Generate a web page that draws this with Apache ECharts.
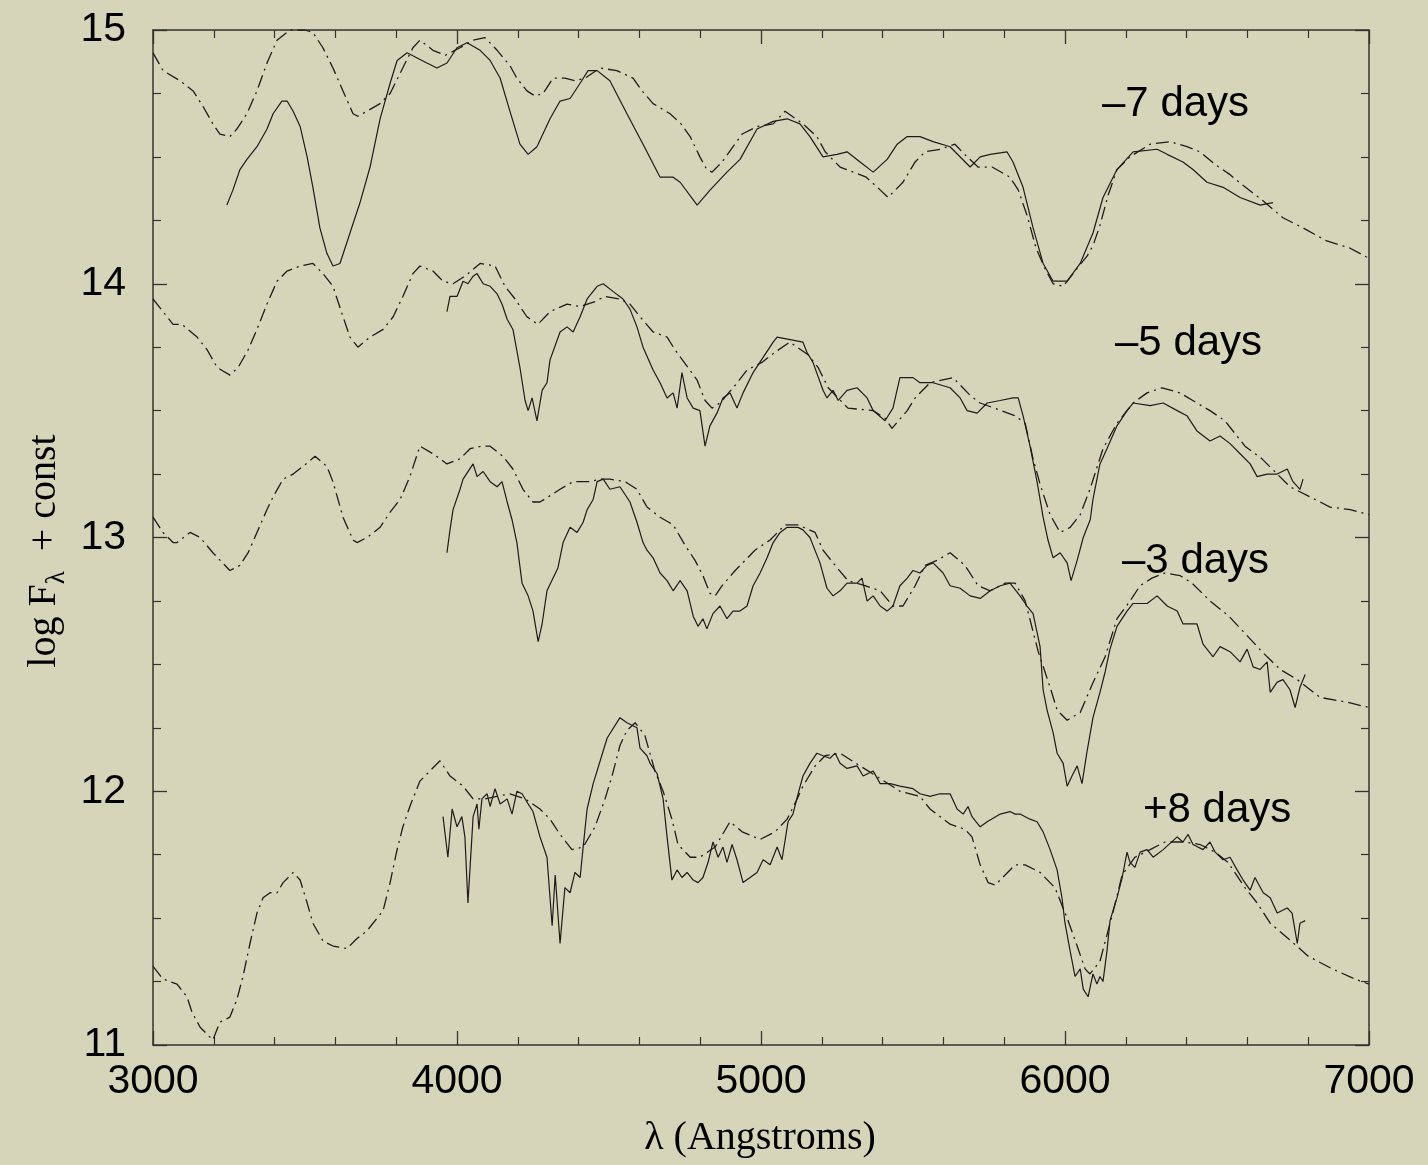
<!DOCTYPE html>
<html>
<head>
    <meta charset="utf-8">
    <title>log F vs wavelength</title>
    <script src="https://cdn.jsdelivr.net/npm/echarts@6.0.0/dist/echarts.min.js"></script>
    <style>
        body { margin: 0; background: #d6d4b9; }
        #main { width: 1428px; height: 1165px; }
    </style>
</head>
<body>
<div id="main"></div>
<script type="text/javascript">

    // spectra: [wavelength (A), log F + const]
    var model7 = [[3000,14.91],[3033,14.84],[3089,14.80],[3132,14.76],[3164,14.70],[3197,14.63],[3220,14.59],[3253,14.58],[3276,14.61],[3309,14.67],[3342,14.76],[3375,14.87],[3408,14.96],[3451,15.00],[3500,15.00],[3526,14.99],[3559,14.93],[3592,14.85],[3625,14.76],[3658,14.67],[3674,14.66],[3704,14.68],[3747,14.71],[3780,14.75],[3813,14.83],[3855,14.93],[3878,14.96],[3921,14.92],[3961,14.90],[4010,14.93],[4053,14.96],[4092,14.97],[4132,14.92],[4174,14.86],[4197,14.81],[4230,14.76],[4257,14.74],[4283,14.75],[4316,14.81],[4355,14.81],[4388,14.80],[4421,14.81],[4471,14.85],[4526,14.84],[4579,14.81],[4609,14.76],[4645,14.71],[4701,14.67],[4737,14.63],[4767,14.58],[4799,14.50],[4822,14.45],[4839,14.44],[4872,14.48],[4908,14.54],[4938,14.59],[4987,14.62],[5040,14.63],[5079,14.68],[5138,14.63],[5184,14.58],[5211,14.52],[5260,14.46],[5346,14.42],[5392,14.37],[5418,14.34],[5467,14.40],[5507,14.48],[5540,14.52],[5589,14.53],[5638,14.55],[5678,14.50],[5714,14.46],[5760,14.46],[5819,14.42],[5846,14.37],[5875,14.27],[5905,14.14],[5934,14.06],[5961,14.00],[5994,13.99],[6033,14.05],[6073,14.11],[6092,14.15],[6115,14.23],[6142,14.35],[6171,14.45],[6214,14.50],[6280,14.55],[6346,14.56],[6401,14.54],[6444,14.52],[6494,14.47],[6543,14.43],[6583,14.39],[6648,14.33],[6717,14.26],[6783,14.22],[6859,14.17],[6938,14.14],[7000,14.10]];

    var obs7 = [[3243,14.31],[3263,14.37],[3286,14.45],[3309,14.49],[3342,14.54],[3375,14.61],[3395,14.67],[3424,14.72],[3441,14.72],[3461,14.68],[3484,14.62],[3507,14.50],[3526,14.38],[3549,14.22],[3572,14.12],[3592,14.07],[3615,14.08],[3648,14.20],[3681,14.32],[3714,14.46],[3747,14.65],[3780,14.79],[3803,14.88],[3836,14.91],[3869,14.89],[3901,14.87],[3934,14.85],[3967,14.87],[4000,14.93],[4033,14.95],[4076,14.92],[4109,14.88],[4142,14.81],[4174,14.68],[4207,14.55],[4234,14.51],[4263,14.54],[4306,14.65],[4339,14.72],[4372,14.73],[4405,14.79],[4431,14.84],[4461,14.84],[4503,14.80],[4559,14.67],[4612,14.55],[4668,14.42],[4711,14.42],[4734,14.40],[4790,14.31],[4833,14.37],[4888,14.44],[4931,14.49],[4987,14.61],[5040,14.64],[5086,14.65],[5128,14.63],[5161,14.58],[5204,14.50],[5250,14.51],[5283,14.52],[5326,14.48],[5369,14.44],[5415,14.49],[5448,14.55],[5481,14.58],[5523,14.58],[5566,14.56],[5622,14.54],[5688,14.46],[5721,14.50],[5754,14.51],[5809,14.52],[5829,14.48],[5862,14.38],[5895,14.22],[5928,14.08],[5961,14.01],[6007,14.01],[6050,14.08],[6092,14.20],[6125,14.34],[6171,14.45],[6224,14.52],[6303,14.53],[6336,14.51],[6388,14.48],[6421,14.45],[6467,14.40],[6520,14.38],[6576,14.34],[6642,14.31],[6684,14.32]];

    var model5 = [[3000,13.94],[3033,13.89],[3066,13.84],[3095,13.84],[3145,13.79],[3178,13.74],[3211,13.67],[3253,13.64],[3280,13.67],[3313,13.74],[3342,13.82],[3375,13.92],[3408,14.01],[3441,14.05],[3484,14.07],[3526,14.08],[3559,14.04],[3592,13.99],[3625,13.87],[3648,13.79],[3674,13.75],[3714,13.79],[3757,13.82],[3790,13.87],[3822,13.95],[3855,14.04],[3878,14.07],[3921,14.05],[3954,14.01],[3987,14.00],[4026,14.03],[4076,14.08],[4125,14.07],[4158,13.99],[4191,13.94],[4230,13.87],[4266,13.84],[4306,13.89],[4362,13.92],[4405,13.91],[4454,13.93],[4487,13.95],[4536,13.94],[4569,13.92],[4602,13.87],[4645,13.81],[4691,13.79],[4717,13.74],[4760,13.67],[4790,13.62],[4816,13.54],[4839,13.51],[4865,13.53],[4915,13.60],[4954,13.66],[5003,13.69],[5046,13.73],[5095,13.77],[5155,13.72],[5188,13.67],[5221,13.59],[5286,13.51],[5369,13.50],[5408,13.47],[5431,13.43],[5481,13.50],[5507,13.55],[5556,13.61],[5632,13.63],[5688,13.56],[5721,13.53],[5836,13.48],[5869,13.45],[5895,13.31],[5918,13.21],[5951,13.09],[5984,13.02],[6017,13.04],[6050,13.09],[6082,13.19],[6125,13.35],[6171,13.45],[6224,13.53],[6270,13.57],[6319,13.59],[6378,13.57],[6434,13.53],[6477,13.50],[6526,13.46],[6592,13.36],[6648,13.31],[6740,13.20],[6806,13.16],[6872,13.12],[6938,13.11],[7000,13.09]];

    var obs5 = [[3967,13.89],[3977,13.95],[4000,13.95],[4020,14.01],[4036,14.00],[4053,14.03],[4066,14.04],[4086,14.00],[4109,13.99],[4132,13.96],[4148,13.92],[4165,13.86],[4184,13.82],[4207,13.67],[4224,13.54],[4234,13.50],[4247,13.55],[4263,13.46],[4280,13.58],[4296,13.61],[4306,13.70],[4339,13.81],[4362,13.83],[4382,13.81],[4405,13.87],[4428,13.94],[4461,13.99],[4481,14.00],[4513,13.97],[4546,13.94],[4569,13.90],[4592,13.83],[4612,13.75],[4645,13.66],[4668,13.61],[4691,13.55],[4711,13.57],[4724,13.51],[4740,13.65],[4757,13.55],[4777,13.51],[4799,13.50],[4816,13.36],[4832,13.44],[4855,13.49],[4875,13.55],[4898,13.57],[4921,13.51],[4941,13.57],[4974,13.65],[5007,13.71],[5040,13.77],[5053,13.79],[5096,13.78],[5138,13.77],[5151,13.73],[5171,13.69],[5204,13.58],[5217,13.55],[5237,13.58],[5254,13.54],[5283,13.58],[5316,13.59],[5349,13.55],[5369,13.50],[5408,13.46],[5434,13.51],[5457,13.63],[5481,13.63],[5500,13.63],[5523,13.61],[5566,13.61],[5622,13.59],[5655,13.55],[5678,13.50],[5711,13.49],[5744,13.53],[5787,13.54],[5829,13.55],[5846,13.55],[5862,13.48],[5885,13.36],[5908,13.22],[5928,13.08],[5944,12.99],[5961,12.92],[5984,12.94],[6007,12.90],[6020,12.83],[6040,12.91],[6060,13.00],[6083,13.07],[6092,13.15],[6115,13.29],[6138,13.35],[6171,13.44],[6204,13.50],[6224,13.53],[6280,13.52],[6323,13.53],[6369,13.50],[6401,13.48],[6434,13.42],[6477,13.38],[6510,13.40],[6543,13.37],[6576,13.33],[6609,13.29],[6632,13.24],[6665,13.25],[6698,13.25],[6731,13.27],[6750,13.22],[6773,13.19],[6783,13.23]];

    var model3 = [[3000,13.08],[3033,13.02],[3066,12.98],[3079,12.98],[3122,13.02],[3155,13.00],[3197,12.94],[3253,12.87],[3286,12.89],[3313,12.94],[3342,13.02],[3375,13.11],[3395,13.16],[3428,13.23],[3461,13.25],[3493,13.28],[3533,13.32],[3572,13.28],[3592,13.22],[3625,13.08],[3658,12.99],[3671,12.98],[3704,13.00],[3747,13.04],[3780,13.10],[3813,13.15],[3845,13.24],[3878,13.36],[3921,13.33],[3967,13.29],[4010,13.31],[4043,13.35],[4082,13.36],[4109,13.36],[4151,13.32],[4184,13.27],[4217,13.19],[4250,13.14],[4273,13.14],[4313,13.17],[4339,13.19],[4382,13.22],[4438,13.22],[4471,13.23],[4503,13.23],[4553,13.22],[4592,13.19],[4625,13.12],[4668,13.08],[4711,13.05],[4750,12.97],[4783,12.91],[4809,12.85],[4832,12.78],[4849,12.77],[4872,12.81],[4915,12.87],[4948,12.91],[4980,12.95],[5030,12.99],[5079,13.05],[5122,13.05],[5178,13.02],[5204,12.95],[5244,12.89],[5286,12.83],[5342,12.81],[5392,12.79],[5434,12.73],[5467,12.73],[5507,12.81],[5540,12.89],[5579,12.91],[5622,12.94],[5671,12.89],[5714,12.81],[5754,12.79],[5803,12.82],[5836,12.82],[5869,12.75],[5912,12.55],[5951,12.41],[5974,12.32],[6007,12.28],[6050,12.31],[6089,12.42],[6132,12.53],[6171,12.68],[6214,12.75],[6247,12.81],[6286,12.84],[6329,12.86],[6378,12.85],[6418,12.82],[6477,12.75],[6539,12.69],[6586,12.63],[6648,12.55],[6708,12.48],[6764,12.44],[6839,12.37],[6931,12.35],[7000,12.33]];

    var obs3 = [[3967,12.94],[3977,13.03],[3987,13.11],[4010,13.19],[4020,13.23],[4053,13.29],[4066,13.24],[4086,13.26],[4109,13.22],[4132,13.20],[4148,13.22],[4165,13.14],[4181,13.07],[4197,12.98],[4214,12.82],[4234,12.77],[4250,12.71],[4267,12.59],[4280,12.66],[4296,12.79],[4316,12.84],[4332,12.88],[4349,12.98],[4372,13.04],[4395,13.02],[4415,13.06],[4428,13.11],[4448,13.15],[4461,13.22],[4481,13.23],[4503,13.19],[4536,13.20],[4569,13.14],[4592,13.06],[4612,12.98],[4625,12.95],[4645,12.92],[4668,12.86],[4691,12.83],[4711,12.79],[4734,12.83],[4757,12.79],[4777,12.69],[4793,12.65],[4809,12.68],[4822,12.64],[4842,12.70],[4865,12.73],[4888,12.68],[4908,12.71],[4931,12.71],[4954,12.73],[4974,12.81],[4997,12.86],[5020,12.92],[5040,12.98],[5063,13.02],[5086,13.04],[5105,13.04],[5122,13.04],[5138,13.03],[5161,13.00],[5194,12.90],[5217,12.80],[5237,12.77],[5260,12.79],[5283,12.82],[5316,12.82],[5332,12.84],[5349,12.75],[5369,12.77],[5392,12.73],[5415,12.71],[5434,12.73],[5457,12.81],[5481,12.84],[5500,12.87],[5523,12.86],[5546,12.89],[5566,12.90],[5599,12.86],[5622,12.81],[5655,12.80],[5688,12.77],[5721,12.76],[5754,12.79],[5787,12.81],[5819,12.82],[5852,12.77],[5875,12.73],[5895,12.70],[5918,12.57],[5928,12.40],[5941,12.32],[5961,12.23],[5974,12.15],[5994,12.11],[6007,12.02],[6023,12.06],[6040,12.10],[6056,12.03],[6073,12.16],[6092,12.29],[6115,12.39],[6132,12.47],[6148,12.56],[6171,12.65],[6204,12.71],[6224,12.74],[6270,12.74],[6303,12.77],[6336,12.73],[6369,12.71],[6388,12.66],[6434,12.66],[6454,12.58],[6487,12.53],[6510,12.57],[6543,12.55],[6576,12.51],[6599,12.56],[6619,12.49],[6642,12.48],[6665,12.51],[6675,12.39],[6698,12.43],[6717,12.44],[6740,12.40],[6757,12.33],[6773,12.41],[6790,12.46]];

    var model8 = [[3000,11.31],[3033,11.26],[3079,11.24],[3112,11.19],[3128,11.13],[3155,11.07],[3188,11.03],[3197,11.02],[3220,11.09],[3253,11.11],[3276,11.18],[3296,11.27],[3319,11.40],[3342,11.52],[3362,11.58],[3385,11.60],[3408,11.60],[3428,11.64],[3461,11.68],[3484,11.65],[3507,11.56],[3526,11.48],[3559,11.41],[3592,11.39],[3638,11.38],[3671,11.42],[3704,11.45],[3757,11.53],[3780,11.64],[3803,11.77],[3822,11.86],[3845,11.94],[3878,12.04],[3911,12.08],[3944,12.12],[3977,12.06],[4020,12.02],[4053,11.97],[4092,11.97],[4174,11.99],[4224,11.97],[4273,11.93],[4306,11.89],[4339,11.83],[4378,11.77],[4415,11.78],[4454,11.86],[4487,11.97],[4510,12.06],[4536,12.18],[4559,12.24],[4586,12.27],[4618,12.22],[4651,12.08],[4678,12.00],[4707,11.89],[4727,11.79],[4767,11.74],[4799,11.74],[4849,11.78],[4898,11.88],[4938,11.84],[4997,11.81],[5046,11.84],[5086,11.89],[5119,11.97],[5138,12.02],[5178,12.10],[5211,12.14],[5260,12.15],[5326,12.10],[5392,12.05],[5457,12.00],[5523,11.98],[5556,11.93],[5622,11.87],[5671,11.85],[5694,11.82],[5721,11.71],[5747,11.64],[5770,11.63],[5803,11.67],[5836,11.71],[5869,11.71],[5918,11.68],[5967,11.62],[6007,11.50],[6040,11.39],[6066,11.30],[6082,11.28],[6115,11.33],[6155,11.51],[6188,11.67],[6230,11.74],[6280,11.77],[6329,11.80],[6395,11.80],[6444,11.79],[6494,11.76],[6536,11.72],[6592,11.62],[6632,11.56],[6675,11.48],[6734,11.42],[6800,11.35],[6879,11.30],[6954,11.26],[7000,11.24]];

    var obs8 = [[3954,11.90],[3970,11.74],[3984,11.93],[4000,11.86],[4016,11.90],[4026,11.82],[4036,11.56],[4053,11.90],[4066,11.95],[4072,11.85],[4082,11.97],[4099,11.99],[4109,11.94],[4125,12.01],[4142,11.95],[4165,11.97],[4181,11.91],[4197,12.00],[4214,11.99],[4234,11.95],[4250,11.92],[4273,11.82],[4296,11.74],[4313,11.47],[4323,11.67],[4339,11.40],[4355,11.62],[4372,11.60],[4388,11.68],[4405,11.66],[4415,11.78],[4428,11.93],[4448,12.03],[4471,12.12],[4494,12.21],[4536,12.29],[4559,12.27],[4592,12.25],[4602,12.17],[4625,12.14],[4635,12.11],[4658,12.07],[4678,11.97],[4691,11.82],[4707,11.65],[4724,11.69],[4740,11.66],[4757,11.68],[4777,11.65],[4793,11.64],[4809,11.66],[4826,11.72],[4842,11.80],[4859,11.74],[4875,11.78],[4888,11.72],[4905,11.79],[4921,11.73],[4941,11.64],[4964,11.66],[4987,11.68],[5007,11.73],[5030,11.71],[5053,11.78],[5069,11.73],[5089,11.88],[5105,11.91],[5122,11.99],[5138,12.06],[5161,12.11],[5184,12.15],[5204,12.14],[5227,12.13],[5244,12.15],[5260,12.11],[5283,12.09],[5316,12.10],[5336,12.06],[5369,12.08],[5392,12.03],[5425,12.03],[5457,12.02],[5500,12.01],[5523,11.99],[5556,11.98],[5589,11.99],[5622,11.99],[5645,11.93],[5665,11.91],[5681,11.94],[5694,11.90],[5721,11.86],[5744,11.88],[5787,11.91],[5819,11.92],[5836,11.91],[5852,11.91],[5885,11.89],[5908,11.88],[5928,11.84],[5951,11.77],[5974,11.69],[5990,11.58],[6000,11.48],[6017,11.37],[6033,11.27],[6050,11.30],[6060,11.22],[6076,11.19],[6092,11.28],[6105,11.24],[6115,11.27],[6125,11.25],[6138,11.37],[6148,11.49],[6171,11.58],[6188,11.66],[6204,11.76],[6214,11.72],[6230,11.70],[6247,11.76],[6270,11.77],[6290,11.74],[6323,11.77],[6369,11.82],[6388,11.80],[6405,11.83],[6421,11.79],[6454,11.77],[6477,11.80],[6494,11.76],[6520,11.73],[6543,11.74],[6566,11.69],[6586,11.65],[6609,11.61],[6625,11.66],[6652,11.60],[6675,11.58],[6698,11.52],[6731,11.54],[6747,11.52],[6764,11.40],[6773,11.48],[6790,11.49]];

    var xTicks = [3000, 7000, 1000];   // min, max, step
    var yTicks = [11, 15, 1];
    var epochLabels = ['\u20137 days', '\u20135 days', '\u20133 days', '+8 days'];

    var ink = '#1c1c1c';
    var sans = '"Liberation Sans", Arial, Helvetica, sans-serif';
    var serif = '"Liberation Serif", "Times New Roman", serif';

    var myChart = echarts.init(document.getElementById('main'), null, {renderer: 'canvas'});

    // frame axis: same scale, ticks inside, labels only on bottom / left
    function frameAxis(range, pos, minorSplit, showLabel) {
        return {
            type: 'value',
            position: pos,
            min: range[0],
            max: range[1],
            interval: range[2],
            axisLine: {show: true, onZero: false, lineStyle: {color: '#333', width: 1.5}},
            axisTick: {show: true, inside: true, length: 14, lineStyle: {color: '#333', width: 1.3}},
            minorTick: {show: true, splitNumber: minorSplit, length: 8, lineStyle: {color: '#333', width: 1.2}},
            splitLine: {show: false},
            minorSplitLine: {show: false},
            axisLabel: {
                show: showLabel,
                color: '#000',
                fontFamily: sans,
                fontSize: 41,
                margin: (pos === 'bottom') ? 16 : 27,
                formatter: function (v) { return String(v); }
            }
        };
    }

    function spectrum(data, dashed) {
        return {
            type: 'line',
            data: data,
            showSymbol: false,
            smooth: false,
            silent: true,
            lineStyle: {
                color: ink,
                width: dashed ? 1.3 : 1.2,
                type: dashed ? [13, 5, 2, 5] : 'solid'
            }
        };
    }

    var labelSpots = [[1102, 104], [1115, 343], [1122, 561], [1143, 810]];
    var graphics = [];
    for (var i = 0; i < epochLabels.length; i++) {
        graphics.push({
            type: 'text',
            left: labelSpots[i][0],
            top: labelSpots[i][1] - 21,
            z: 10,
            style: {text: epochLabels[i], fill: '#000', font: '42px ' + sans}
        });
    }
    // axis titles
    graphics.push({
        type: 'text',
        x: 760, y: 1138,
        z: 10,
        style: {
            text: '\u03bb (Angstroms)', fill: '#000', font: '40px ' + serif,
            textAlign: 'center', textVerticalAlign: 'middle'
        }
    });
    graphics.push({
        type: 'text',
        x: 44, y: 551,
        rotation: Math.PI / 2,
        z: 10,
        style: {
            text: '{a|log F}{s|\u03bb}{a|  + const}',
            fill: '#000',
            textAlign: 'center',
            textVerticalAlign: 'middle',
            rich: {
                a: {fontFamily: serif, fontSize: 40, lineHeight: 52, fill: '#000'},
                s: {fontFamily: serif, fontSize: 27, lineHeight: 27, verticalAlign: 'bottom', fill: '#000'}
            }
        }
    });

    myChart.setOption({
        animation: false,
        backgroundColor: '#d6d4b9',
        grid: {left: 153, right: 59, top: 30, bottom: 120},
        xAxis: [
            frameAxis(xTicks, 'bottom', 5, true),
            frameAxis(xTicks, 'top', 5, false)
        ],
        yAxis: [
            frameAxis(yTicks, 'left', 4, true),
            frameAxis(yTicks, 'right', 4, false)
        ],
        series: [
            spectrum(model7, true),
            spectrum(obs7, false),
            spectrum(model5, true),
            spectrum(obs5, false),
            spectrum(model3, true),
            spectrum(obs3, false),
            spectrum(model8, true),
            spectrum(obs8, false)
        ],
        graphic: graphics
    });

</script>
</body>
</html>
